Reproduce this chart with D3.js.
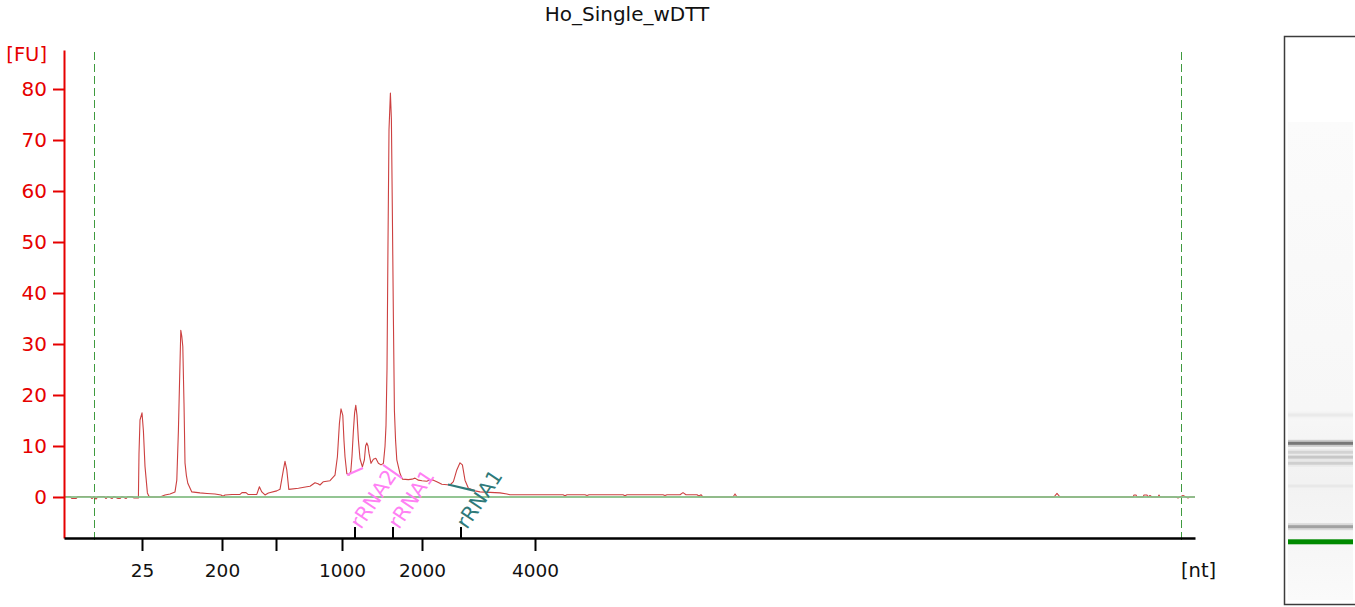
<!DOCTYPE html>
<html><head><meta charset="utf-8">
<script src="https://cdn.jsdelivr.net/npm/d3@7"></script>
<style>
body{margin:0;background:#fff;}
svg{display:block;font-family:"DejaVu Sans",Verdana,sans-serif;}
</style>
</head><body>
<svg id="chart" width="1355" height="607"></svg>
<script>
// ---------------- data ----------------
const chartTitle = "Ho_Single_wDTT";
const yTickValues = [0, 10, 20, 30, 40, 50, 60, 70, 80];
const xTickTimes = [21.9, 25.9, 28.6, 31.9, 35.9, 41.55];
const xTickLabels = ["25", "200", "", "1000", "2000", "4000"];
const windowTimes = [19.5, 73.85];

// electropherogram trace: migration time (s) and fluorescence (FU)
const traceTime = [18.0,18.3,18.4,18.6,18.7,19.3,19.4,19.5,19.6,19.7,20.0,20.1,20.2,20.4,20.5,20.7,20.8,20.9,21.1,21.2,21.4,21.5,21.65,21.72,
  21.75,21.8,21.9,21.97,22.05,22.17,22.24,22.3,22.8,23.05,23.3,23.55,23.64,23.72,23.78,23.84,23.89,23.94,24.0,24.05,24.12,24.19,24.39,
  24.8,25.15,25.55,25.85,25.95,26.05,26.4,26.8,26.9,27.1,27.2,27.64,27.77,27.89,28.05,28.22,28.64,28.8,28.97,29.05,29.14,29.24,29.72,
  30.14,30.3,30.55,30.7,30.8,30.97,31.3,31.55,31.67,31.77,31.85,31.94,32.0,32.05,32.14,32.25,32.34,32.4,32.47,32.53,32.59,32.65,32.72,
  32.8,32.92,33.02,33.08,33.14,33.2,33.25,33.35,33.47,33.59,33.72,33.85,33.97,34.05,34.1,34.15,34.2,34.25,34.32,34.37,34.42,34.47,34.52,
  34.58,34.64,34.8,34.92,35.22,35.4,35.55,35.72,35.9,36.14,36.3,36.47,36.64,36.89,37.3,37.47,37.64,37.8,37.92,38.05,38.22,38.55,38.8,
  39.3,39.8,40.15,40.3,42.95,43.05,43.15,44.05,44.15,44.25,45.95,46.05,46.15,47.95,48.05,48.15,48.8,48.95,49.1,49.65,49.75,49.85,49.95,
  51.45,51.55,51.65,67.5,67.65,67.8,71.45,71.5,71.6,71.65,71.95,72.0,72.15,72.2,72.3,72.4,72.7,72.75,72.8,73.6,73.7,73.8,73.95,74.1,74.2,74.3,74.55];
const traceFU = [0.1,0.1,-0.3,-0.3,0.1,0.1,-0.3,0.1,-0.4,0.1,0.1,-0.3,0.1,-0.3,0.1,-0.3,-0.3,0.1,-0.3,0.1,0.1,-0.2,-0.2,-0.2,
  8.6,15.1,16.5,13,6,0.8,0.2,0,0,0.4,0.6,1.0,3.3,13,23,32.7,31.5,29.5,18.4,6.7,4.2,2.7,1.0,
  0.8,0.7,0.6,0.4,0.15,0.4,0.5,0.5,0.85,0.85,0.5,0.5,2.0,1.0,0.4,0.8,1.2,1.5,5.3,7.0,5.3,1.5,1.7,
  2.0,2.1,2.8,2.6,2.35,3.0,3.2,4.3,7.9,14.4,17.3,16,11,7.9,4.6,4.3,5.0,8,13,16.5,18,16,11.2,
  7.5,5.9,7.3,10,10.6,10,8.6,6.6,7.4,7.6,6.6,6.3,6.6,9.9,14,25,50,72,79.2,74,55,35,17,
  11,7.3,4.6,3.5,3.4,3.5,3.7,3.3,3.2,3.1,3.4,3.3,3.0,2.5,2.35,3.0,5.3,6.7,6.3,3.3,1.7,1.2,1.0,
  0.9,0.8,0.6,0.45,0.45,0.25,0.45,0.45,0.3,0.45,0.45,0.25,0.45,0.45,0.3,0.45,0.45,0.85,0.45,0.45,0.2,0.45,0,
  0,0.6,0,0,0.7,0,0,0.4,0.4,0,0,0.4,0.4,0,0.3,0,0,0.4,0,0,-0.2,0,0.3,0,-0.2,0,0];

// annotated peaks
const peakNames = ["rRNA2", "rRNA1", "rRNA1"];
const peakTimes = [32.55, 34.45, 37.85];
// region baselines drawn for the annotations
const segTimes = [[32.15, 32.95], [33.95, 34.9], [37.2, 38.55]];
const segFU = [[4.3, 5.7], [6.3, 3.7], [2.45, 1.2]];

// gel-like lane bands: migration time and relative intensity
const gelBandTimes = [24.9, 29.05, 31.85, 32.6, 33.2, 34.3, 37.8];
const gelBandIntensity = [0.42, 0.08, 0.2, 0.24, 0.18, 0.62, 0.07];
const gelMarkerTime = 21.9;

// ---------------- styles ----------------
const RED = "#e60000";
const TRACE = "#cc4040";
const PINK = "#ff80f4";
const TEAL = "#2f7a7a";
const peakColors = [PINK, PINK, TEAL];
const segColors = [PINK, PINK, TEAL];

// ---------------- drawing ----------------
const svg = d3.select("#chart");

const x = d3.scaleLinear().domain([18, 74.55]).range([64, 1195]);
const y = d3.scaleLinear().domain([-8.04, 87.65]).range([538, 50]);

// title
svg.append("text").attr("x", 627).attr("y", 21).attr("text-anchor", "middle")
  .attr("font-size", 20).attr("fill", "#111").text(chartTitle);

// window dashed lines (crisp 1px)
svg.selectAll(".win").data(windowTimes).join("line")
  .attr("x1", d => Math.round(x(d)) + 0.5).attr("x2", d => Math.round(x(d)) + 0.5)
  .attr("y1", 52).attr("y2", 540)
  .attr("stroke", "#3f9a3f").attr("stroke-width", 1)
  .attr("stroke-dasharray", "8,4");

// trace
const pts = traceTime.map((t, i) => [t, traceFU[i]]);
svg.append("path").datum(pts)
  .attr("fill", "none").attr("stroke", TRACE).attr("stroke-width", 1.1)
  .attr("stroke-linejoin", "round")
  .attr("d", d3.line().x(d => x(d[0])).y(d => y(d[1])));

// zero baseline
svg.append("line").attr("x1", x(18)).attr("x2", x(74.55))
  .attr("y1", y(0)).attr("y2", y(0))
  .attr("stroke", "#88bf88").attr("stroke-width", 2).attr("opacity", 0.9);

// annotation segments
svg.selectAll(".seg").data(segTimes).join("line")
  .attr("x1", d => x(d[0])).attr("x2", d => x(d[1]))
  .attr("y1", (d, i) => y(segFU[i][0])).attr("y2", (d, i) => y(segFU[i][1]))
  .attr("stroke", (d, i) => segColors[i]).attr("stroke-width", 2.2);

// y axis
const yAxis = svg.append("g").attr("transform", "translate(64,0)")
  .call(d3.axisLeft(y).tickValues(yTickValues).tickSize(11).tickSizeOuter(0).tickPadding(6));
yAxis.select(".domain").attr("stroke", RED).attr("stroke-width", 2);
yAxis.selectAll(".tick line").attr("stroke", RED).attr("stroke-width", 2);
yAxis.selectAll(".tick text").attr("fill", RED).attr("font-size", 20)
  .attr("font-family", "'DejaVu Sans',Verdana,sans-serif");

// x axis
const xAxis = svg.append("g").attr("transform", "translate(0,538)")
  .call(d3.axisBottom(x).tickValues(xTickTimes).tickFormat((d, i) => xTickLabels[i])
    .tickSize(13).tickSizeOuter(0).tickPadding(13));
xAxis.select(".domain").attr("stroke", "#000").attr("stroke-width", 2.5);
xAxis.selectAll(".tick line").attr("stroke", "#000").attr("stroke-width", 2);
xAxis.selectAll(".tick text").attr("fill", "#111").attr("font-size", 18.5)
  .attr("font-family", "'DejaVu Sans',Verdana,sans-serif");

// peak ticks (above axis)
svg.selectAll(".ptick").data(peakTimes).join("line")
  .attr("x1", d => x(d)).attr("x2", d => x(d))
  .attr("y1", 527).attr("y2", 538)
  .attr("stroke", "#000").attr("stroke-width", 2);

// peak labels
svg.selectAll(".plab").data(peakTimes).join("text")
  .attr("transform", d => `translate(${x(d) + 6},530) rotate(-56)`)
  .attr("font-size", 20.5).attr("fill", (d, i) => peakColors[i])
  .text((d, i) => peakNames[i]);

// unit labels
svg.append("text").attr("x", 47).attr("y", 61).attr("text-anchor", "end")
  .attr("font-size", 19.5).attr("fill", RED).text("[FU]");
svg.append("text").attr("x", 1181).attr("y", 577)
  .attr("font-size", 19.5).attr("fill", "#111").text("[nt]");

// ---------------- gel lane ----------------
const gy = d3.scaleLinear().domain([21.9, 24.9, 29.05, 34.3, 37.8])
  .range([541.8, 526.7, 486, 443.3, 415]);
const defs = svg.append("defs");
const grad = defs.append("linearGradient").attr("id", "lane")
  .attr("x1", 0).attr("x2", 0).attr("y1", 0).attr("y2", 1);
grad.append("stop").attr("offset", "0").attr("stop-color", "#fbfbfb");
grad.append("stop").attr("offset", "0.6").attr("stop-color", "#f7f7f7");
grad.append("stop").attr("offset", "0.75").attr("stop-color", "#f2f2f2");
grad.append("stop").attr("offset", "1").attr("stop-color", "#fafafa");

svg.append("rect").attr("x", 1284.5).attr("y", 36.5).attr("width", 90).attr("height", 568)
  .attr("fill", "#fff").attr("stroke", "#3c3c3c").attr("stroke-width", 1.5);
svg.append("rect").attr("x", 1288).attr("y", 122).attr("width", 65).attr("height", 478)
  .attr("fill", "url(#lane)");

const shade = d3.interpolateRgb("#f8f8f8", "#2a2a2a");
svg.selectAll(".bandglow").data(gelBandTimes).join("rect")
  .attr("x", 1288).attr("width", 65)
  .attr("y", d => gy(d) - 3.5).attr("height", 7)
  .attr("fill", (d, i) => shade(gelBandIntensity[i] * 0.35));
svg.selectAll(".band").data(gelBandTimes).join("rect")
  .attr("x", 1288).attr("width", 65)
  .attr("y", d => gy(d) - 1.5).attr("height", 3)
  .attr("fill", (d, i) => shade(gelBandIntensity[i]));
svg.append("rect").attr("x", 1288).attr("width", 65)
  .attr("y", gy(gelMarkerTime) - 2.5).attr("height", 5).attr("fill", "#008a00");
</script>
</body></html>
